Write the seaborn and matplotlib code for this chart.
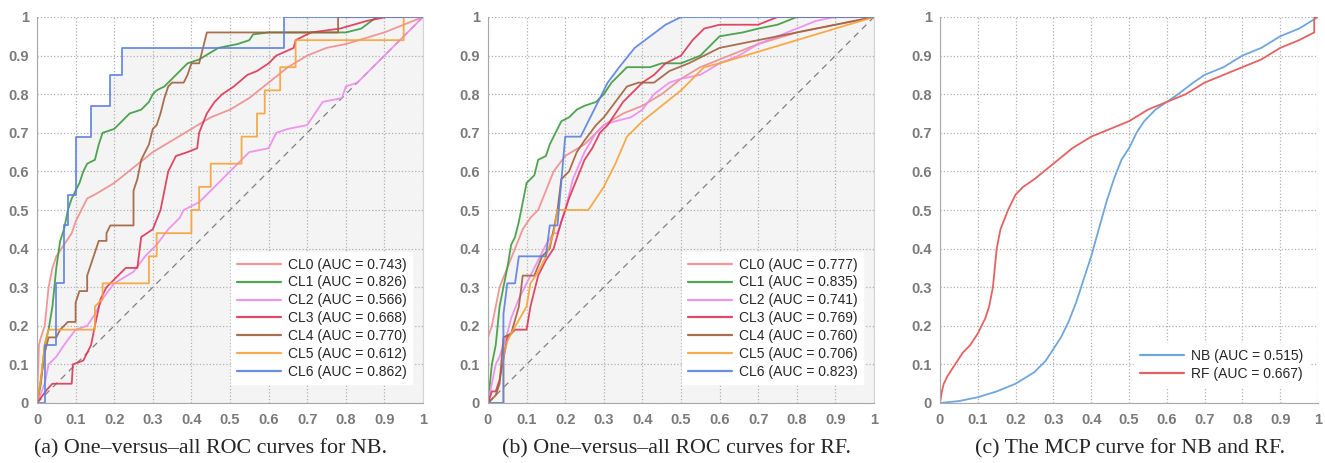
import numpy as np
import pandas as pd
import matplotlib
matplotlib.use('Agg')
import matplotlib.pyplot as plt
from matplotlib.ticker import MultipleLocator
import seaborn as sns

# ROC points, NB panel
nb_cl0_x = [0, 0.005, 0.01, 0.02, 0.03, 0.04, 0.05, 0.07, 0.09, 0.1, 0.13, 0.15, 0.2, 0.25, 0.3, 0.35, 0.4, 0.45, 0.5, 0.55, 0.6, 0.65, 0.7, 0.75, 0.8, 0.9, 1]
nb_cl0_y = [0, 0.15, 0.17, 0.2, 0.3, 0.35, 0.38, 0.41, 0.44, 0.47, 0.53, 0.54, 0.57, 0.61, 0.65, 0.68, 0.71, 0.74, 0.76, 0.79, 0.83, 0.87, 0.9, 0.92, 0.93, 0.96, 1]
nb_cl1_x = [0, 0.01, 0.02, 0.03, 0.04, 0.05, 0.06, 0.07, 0.08, 0.09, 0.1, 0.11, 0.12, 0.13, 0.15, 0.16, 0.17, 0.2, 0.22, 0.24, 0.27, 0.29, 0.3, 0.31, 0.33, 0.35, 0.37, 0.39, 0.42, 0.47, 0.52, 0.55, 0.56, 0.6, 0.8, 0.84, 0.88, 1]
nb_cl1_y = [0, 0.05, 0.15, 0.19, 0.25, 0.35, 0.42, 0.45, 0.5, 0.53, 0.55, 0.57, 0.6, 0.62, 0.63, 0.67, 0.7, 0.71, 0.73, 0.75, 0.76, 0.78, 0.8, 0.81, 0.82, 0.84, 0.86, 0.88, 0.89, 0.92, 0.93, 0.94, 0.955, 0.96, 0.96, 0.97, 1, 1]
nb_cl2_x = [0, 0.02, 0.03, 0.05, 0.07, 0.1, 0.13, 0.15, 0.17, 0.2, 0.25, 0.28, 0.31, 0.34, 0.37, 0.38, 0.42, 0.45, 0.48, 0.5, 0.53, 0.55, 0.6, 0.62, 0.65, 0.7, 0.72, 0.74, 0.79, 0.8, 0.83, 0.86, 0.9, 0.94, 0.97, 1]
nb_cl2_y = [0, 0.05, 0.1, 0.12, 0.15, 0.19, 0.2, 0.23, 0.27, 0.31, 0.34, 0.38, 0.41, 0.45, 0.48, 0.5, 0.52, 0.55, 0.58, 0.6, 0.63, 0.65, 0.66, 0.7, 0.71, 0.72, 0.75, 0.78, 0.79, 0.82, 0.83, 0.86, 0.9, 0.94, 0.97, 1]
nb_cl3_x = [0, 0.026, 0.04, 0.09, 0.093, 0.12, 0.14, 0.15, 0.165, 0.18, 0.2, 0.23, 0.26, 0.27, 0.3, 0.32, 0.33, 0.34, 0.36, 0.39, 0.415, 0.42, 0.44, 0.46, 0.48, 0.51, 0.545, 0.57, 0.6, 0.62, 0.665, 0.67, 0.71, 0.785, 0.855, 0.905, 1]
nb_cl3_y = [0, 0.035, 0.05, 0.05, 0.1, 0.11, 0.15, 0.2, 0.27, 0.3, 0.32, 0.35, 0.35, 0.43, 0.45, 0.5, 0.55, 0.6, 0.64, 0.65, 0.66, 0.7, 0.75, 0.78, 0.8, 0.82, 0.85, 0.86, 0.88, 0.9, 0.92, 0.94, 0.96, 0.97, 0.99, 1, 1]
nb_cl4_x = [0, 0.01, 0.02, 0.03, 0.05, 0.06, 0.08, 0.1, 0.1, 0.11, 0.13, 0.13, 0.14, 0.15, 0.16, 0.18, 0.18, 0.19, 0.25, 0.25, 0.26, 0.27, 0.28, 0.29, 0.3, 0.31, 0.32, 0.33, 0.34, 0.35, 0.38, 0.39, 0.4, 0.42, 0.43, 0.44, 0.78, 0.78, 1]
nb_cl4_y = [0, 0.06, 0.13, 0.17, 0.17, 0.19, 0.21, 0.21, 0.26, 0.29, 0.29, 0.33, 0.36, 0.39, 0.42, 0.42, 0.44, 0.46, 0.46, 0.55, 0.58, 0.63, 0.65, 0.67, 0.71, 0.72, 0.75, 0.79, 0.82, 0.83, 0.83, 0.85, 0.88, 0.88, 0.92, 0.96, 0.96, 1, 1]
nb_cl5_x = [0, 0.01, 0.02, 0.03, 0.15, 0.15, 0.17, 0.17, 0.29, 0.29, 0.31, 0.31, 0.4, 0.4, 0.42, 0.42, 0.45, 0.45, 0.53, 0.53, 0.57, 0.57, 0.59, 0.59, 0.63, 0.63, 0.67, 0.67, 0.95, 0.95, 1]
nb_cl5_y = [0, 0.06, 0.15, 0.19, 0.19, 0.25, 0.27, 0.31, 0.31, 0.38, 0.38, 0.44, 0.44, 0.5, 0.5, 0.56, 0.56, 0.62, 0.62, 0.69, 0.69, 0.75, 0.75, 0.81, 0.81, 0.87, 0.87, 0.94, 0.94, 1, 1]
nb_cl6_x = [0, 0.02, 0.02, 0.05, 0.05, 0.07, 0.07, 0.08, 0.08, 0.1, 0.1, 0.14, 0.14, 0.19, 0.19, 0.22, 0.22, 0.64, 0.64, 1]
nb_cl6_y = [0, 0, 0.15, 0.15, 0.31, 0.31, 0.46, 0.46, 0.54, 0.54, 0.69, 0.69, 0.77, 0.77, 0.85, 0.85, 0.92, 0.92, 1, 1]

# RF panel
rf_cl0_x = [0, 0, 0.01, 0.02, 0.03, 0.05, 0.07, 0.09, 0.11, 0.13, 0.15, 0.17, 0.2, 0.25, 0.3, 0.35, 0.4, 0.45, 0.5, 0.55, 0.6, 0.7, 0.8, 0.9, 1]
rf_cl0_y = [0, 0.17, 0.2, 0.25, 0.3, 0.35, 0.4, 0.45, 0.48, 0.5, 0.55, 0.6, 0.64, 0.67, 0.72, 0.75, 0.77, 0.8, 0.84, 0.87, 0.89, 0.93, 0.96, 0.98, 1]
rf_cl1_x = [0, 0.005, 0.01, 0.02, 0.03, 0.04, 0.05, 0.06, 0.07, 0.08, 0.09, 0.1, 0.12, 0.13, 0.15, 0.16, 0.17, 0.18, 0.19, 0.21, 0.23, 0.25, 0.28, 0.3, 0.32, 0.34, 0.36, 0.42, 0.45, 0.5, 0.55, 0.6, 0.66, 0.7, 0.75, 0.8, 1]
rf_cl1_y = [0, 0.05, 0.1, 0.15, 0.25, 0.3, 0.35, 0.41, 0.43, 0.47, 0.52, 0.57, 0.59, 0.63, 0.64, 0.67, 0.69, 0.71, 0.73, 0.74, 0.76, 0.77, 0.78, 0.8, 0.83, 0.85, 0.87, 0.87, 0.88, 0.88, 0.9, 0.95, 0.96, 0.97, 0.98, 1, 1]
rf_cl2_x = [0, 0.01, 0.02, 0.03, 0.05, 0.06, 0.08, 0.1, 0.12, 0.15, 0.17, 0.18, 0.2, 0.22, 0.25, 0.28, 0.3, 0.33, 0.37, 0.4, 0.43, 0.47, 0.5, 0.55, 0.6, 0.65, 0.7, 0.75, 0.8, 0.85, 0.9, 1]
rf_cl2_y = [0, 0.05, 0.1, 0.12, 0.18, 0.22, 0.27, 0.31, 0.35, 0.41, 0.44, 0.44, 0.5, 0.58, 0.65, 0.7, 0.72, 0.73, 0.74, 0.76, 0.8, 0.83, 0.84, 0.85, 0.88, 0.9, 0.93, 0.95, 0.97, 0.99, 1, 1]
rf_cl3_x = [0, 0.01, 0.02, 0.03, 0.05, 0.07, 0.1, 0.11, 0.13, 0.15, 0.17, 0.19, 0.21, 0.23, 0.25, 0.27, 0.29, 0.31, 0.33, 0.35, 0.37, 0.4, 0.43, 0.46, 0.5, 0.53, 0.56, 0.6, 0.7, 0.75, 1]
rf_cl3_y = [0, 0.03, 0.03, 0.06, 0.17, 0.19, 0.19, 0.25, 0.33, 0.37, 0.4, 0.47, 0.53, 0.58, 0.63, 0.66, 0.7, 0.72, 0.75, 0.78, 0.8, 0.83, 0.85, 0.88, 0.9, 0.94, 0.97, 0.98, 0.98, 1, 1]
rf_cl4_x = [0, 0.02, 0.03, 0.04, 0.06, 0.08, 0.09, 0.12, 0.14, 0.16, 0.18, 0.19, 0.21, 0.23, 0.25, 0.28, 0.3, 0.33, 0.36, 0.39, 0.43, 0.47, 0.52, 0.56, 0.6, 0.7, 0.8, 0.9, 1]
rf_cl4_y = [0, 0.02, 0.05, 0.17, 0.18, 0.25, 0.33, 0.33, 0.38, 0.4, 0.5, 0.58, 0.6, 0.65, 0.68, 0.72, 0.74, 0.78, 0.82, 0.83, 0.83, 0.86, 0.88, 0.9, 0.92, 0.94, 0.96, 0.98, 1]
rf_cl5_x = [0, 0.04, 0.04, 0.05, 0.06, 0.1, 0.11, 0.13, 0.15, 0.17, 0.18, 0.26, 0.3, 0.33, 0.36, 0.4, 0.45, 0.5, 0.56, 0.6, 0.7, 0.8, 0.9, 1]
rf_cl5_y = [0, 0, 0.12, 0.16, 0.18, 0.25, 0.31, 0.34, 0.38, 0.44, 0.5, 0.5, 0.56, 0.62, 0.69, 0.73, 0.77, 0.81, 0.87, 0.88, 0.91, 0.94, 0.97, 1]
rf_cl6_x = [0, 0.04, 0.04, 0.05, 0.07, 0.08, 0.15, 0.16, 0.18, 0.2, 0.24, 0.28, 0.31, 0.34, 0.38, 0.42, 0.46, 0.5, 1]
rf_cl6_y = [0, 0, 0.23, 0.31, 0.31, 0.38, 0.38, 0.46, 0.46, 0.69, 0.69, 0.77, 0.83, 0.87, 0.92, 0.95, 0.98, 1, 1]

nb_auc = ['0.743', '0.826', '0.566', '0.668', '0.770', '0.612', '0.862']
rf_auc = ['0.777', '0.835', '0.741', '0.769', '0.760', '0.706', '0.823']

# MCP curves
mcp_nb_x = [0, 0.05, 0.1, 0.15, 0.2, 0.25, 0.28, 0.3, 0.32, 0.34, 0.36, 0.38, 0.4, 0.42, 0.44, 0.46, 0.48, 0.5, 0.52, 0.54, 0.57, 0.6, 0.63, 0.67, 0.7, 0.75, 0.8, 0.85, 0.9, 0.95, 1]
mcp_nb_y = [0, 0.005, 0.015, 0.03, 0.05, 0.08, 0.11, 0.14, 0.17, 0.21, 0.26, 0.32, 0.38, 0.45, 0.52, 0.58, 0.63, 0.66, 0.7, 0.73, 0.76, 0.78, 0.8, 0.83, 0.85, 0.87, 0.9, 0.92, 0.95, 0.97, 1]
mcp_rf_x = [0, 0.005, 0.01, 0.02, 0.04, 0.06, 0.08, 0.1, 0.12, 0.13, 0.14, 0.15, 0.16, 0.18, 0.2, 0.22, 0.25, 0.3, 0.35, 0.4, 0.45, 0.5, 0.55, 0.6, 0.65, 0.7, 0.75, 0.8, 0.85, 0.9, 0.95, 0.99, 0.99, 1]
mcp_rf_y = [0, 0.03, 0.05, 0.07, 0.1, 0.13, 0.15, 0.18, 0.22, 0.25, 0.3, 0.4, 0.45, 0.5, 0.54, 0.56, 0.58, 0.62, 0.66, 0.69, 0.71, 0.73, 0.76, 0.78, 0.8, 0.83, 0.85, 0.87, 0.89, 0.92, 0.94, 0.96, 1, 1]

cl_colors = ['#f08c8c', '#3c9a3c', '#ee8aee', '#dc3555', '#a0603c', '#f7a236', '#5b80e0']

nb_curves = [(nb_cl0_x, nb_cl0_y), (nb_cl1_x, nb_cl1_y), (nb_cl2_x, nb_cl2_y), (nb_cl3_x, nb_cl3_y),
             (nb_cl4_x, nb_cl4_y), (nb_cl5_x, nb_cl5_y), (nb_cl6_x, nb_cl6_y)]
rf_curves = [(rf_cl0_x, rf_cl0_y), (rf_cl1_x, rf_cl1_y), (rf_cl2_x, rf_cl2_y), (rf_cl3_x, rf_cl3_y),
             (rf_cl4_x, rf_cl4_y), (rf_cl5_x, rf_cl5_y), (rf_cl6_x, rf_cl6_y)]

sns.set_style('white')
plt.rcParams['font.family'] = ['Liberation Sans', 'DejaVu Sans']

fig = plt.figure(figsize=(13.25, 4.63), dpi=100)
ax_a = fig.add_axes([37/1325, 60/463, 386/1325, 386/463])
ax_b = fig.add_axes([488/1325, 60/463, 386/1325, 386/463])
ax_c = fig.add_axes([940/1325, 60/463, 378/1325, 386/463])

ticks = np.round(np.arange(0, 1.01, 0.1), 1)
tick_labels = ['0'] + ['%.1f' % t for t in ticks[1:-1]] + ['1']


def style_axes(ax):
    ax.set_xlim(0, 1)
    ax.set_ylim(0, 1)
    ax.set_xticks(ticks)
    ax.set_yticks(ticks)
    ax.set_xticklabels(tick_labels)
    ax.set_yticklabels(tick_labels)
    ax.tick_params(direction='in', length=3, width=0.8, color='#b0b0b0',
                   labelsize=10.5, labelcolor='#7a7a7a')
    ax.tick_params(axis='x', pad=7)
    ax.tick_params(axis='y', pad=6)
    for lab in ax.get_xticklabels() + ax.get_yticklabels():
        lab.set_fontweight('bold')
    ax.set_axisbelow(True)
    ax.grid(True, linestyle=':', color='#b0b0b0', linewidth=0.9)
    ax.spines['top'].set_visible(False)
    ax.spines['left'].set_color('#a8a8a8')
    ax.spines['bottom'].set_color('#a8a8a8')
    ax.spines['right'].set_color('#d4d4d4')
    ax.set_xlabel('')
    ax.set_ylabel('')


def roc_panel(ax, curves, aucs):
    rows = []
    for i, (xs, ys) in enumerate(curves):
        name = 'CL%d (AUC = %s)' % (i, aucs[i])
        ax.fill_between(xs, ys, 0, color='#f4f4f4', linewidth=0, zorder=0.3)
        for k, (x, y) in enumerate(zip(xs, ys)):
            rows.append({'fpr': x, 'tpr': y, 'cls': name, 'k': k})
    df = pd.DataFrame(rows)
    names = list(dict.fromkeys(df['cls']))
    sns.lineplot(data=df, x='fpr', y='tpr', hue='cls', hue_order=names, palette=cl_colors,
                 sort=False, estimator=None, units='cls', ax=ax, linewidth=1.3, alpha=0.9)
    ax.plot([0, 1], [0, 1], linestyle=(0, (5, 4)), color='#808080', linewidth=0.9, zorder=1.5)
    style_axes(ax)
    leg = ax.legend(loc='lower right', fontsize=10, frameon=True, fancybox=False,
                    edgecolor='white', framealpha=1, handlelength=3.2,
                    labelspacing=0.28, borderpad=0.4, handletextpad=0.5,
                    bbox_to_anchor=(0.99, 0.03))
    for line in leg.get_lines():
        line.set_linewidth(1.6)


roc_panel(ax_a, nb_curves, nb_auc)
roc_panel(ax_b, rf_curves, rf_auc)

mcp = pd.concat([
    pd.DataFrame({'x': mcp_nb_x, 'y': mcp_nb_y, 'model': 'NB (AUC = 0.515)'}),
    pd.DataFrame({'x': mcp_rf_x, 'y': mcp_rf_y, 'model': 'RF (AUC = 0.667)'}),
])
sns.lineplot(data=mcp, x='x', y='y', hue='model', palette=['#6fa6dc', '#e46262'],
             sort=False, estimator=None, units='model', ax=ax_c, linewidth=1.3)
style_axes(ax_c)
ax_c.spines['right'].set_visible(False)
ax_c.xaxis.set_minor_locator(MultipleLocator(0.005))
ax_c.tick_params(axis='x', which='minor', direction='in', length=3, width=0.6, color='#a8a8a8')
leg_c = ax_c.legend(loc='lower right', fontsize=10, frameon=True, fancybox=False,
                    edgecolor='white', framealpha=1, handlelength=3.2,
                    labelspacing=0.28, borderpad=0.4, handletextpad=0.5,
                    bbox_to_anchor=(0.995, 0.025))
for line in leg_c.get_lines():
    line.set_linewidth(1.6)

cap_kw = dict(ha='center', va='center', fontsize=15.8, family=['Liberation Serif', 'DejaVu Serif'])
cap_y = 1 - 449/463
fig.text(211/1325, cap_y, '(a) One\u2013versus\u2013all ROC curves for NB.', **cap_kw)
fig.text(676/1325, cap_y, '(b) One\u2013versus\u2013all ROC curves for RF.', **cap_kw)
fig.text(1130/1325, cap_y, '(c) The MCP curve for NB and RF.', **cap_kw)

fig.savefig('out.png', dpi=100)
